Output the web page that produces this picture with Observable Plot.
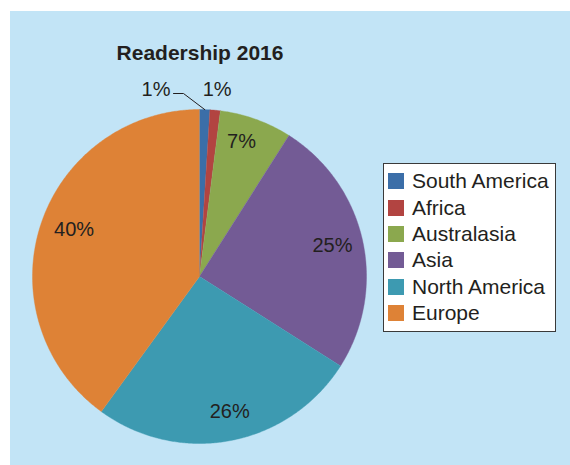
<!DOCTYPE html>
<html>
<head>
<meta charset="utf-8">
<script src="https://cdn.jsdelivr.net/npm/d3@7"></script>
<script src="https://cdn.jsdelivr.net/npm/@observablehq/plot@0.6"></script>
<style>
  body { margin: 0; background: #fff; font-family: "Liberation Sans", Arial, Helvetica, sans-serif; }
  #wrap { position: relative; width: 570px; height: 465px; overflow: hidden; }
  #panel { position: absolute; left: 10px; top: 11px; right: 0; bottom: 0; background: #c2e4f6; }
  #chart { position: absolute; left: 0; top: 0; }
  #title { position: absolute; left: 0; width: 400px; top: 41px; text-align: center; font-weight: bold; font-size: 21px; color: #231f20; line-height: 24px; }
  #legend { position: absolute; left: 383px; top: 163px; width: 171px; height: 163px; border: 1px solid #3a3a3a; background: #fff; padding-top: 4px; box-sizing: content-box; }
  .row { height: 26.4px; display: flex; align-items: center; font-size: 21px; color: #231f20; }
  .sw { width: 16px; height: 16px; margin-left: 4px; margin-right: 8px; flex: none; }
</style>
</head>
<body>
<div id="wrap">
  <div id="panel"></div>
  <div id="chart"></div>
  <div id="title"></div>
  <div id="legend"></div>
</div>
<script>
// ---- data ----
const title = "Readership 2016";
const regions = ["South America", "Africa", "Australasia", "Asia", "North America", "Europe"];
const shares = [1, 1, 7, 25, 26, 40];
const colors = ["#3b6ea8", "#b24441", "#8ba84e", "#735b95", "#3d9ab1", "#de8236"];

// ---- layout (not data) ----
const labelPlace = {
  "South America": {r: 1.0, da: 0},
  "Africa": {r: 1.125, da: 0},
  "Australasia": {r: 0.846, da: -2.5},
  "Asia": {r: 0.818, da: -0.6},
  "North America": {r: 0.828, da: -1.8},
  "Europe": {r: 0.803, da: 2.7}
};

const table = regions.map((name, i) => ({name, value: shares[i]}));
const arcs = d3.pie().sort(null).value(d => d.value).startAngle(0).endAngle(2 * Math.PI)(table);

// polygon outline for each slice (angle measured clockwise from 12 o'clock)
const slicePts = [];
for (const a of arcs) {
  const name = a.data.name;
  slicePts.push({name, x: 0, y: 0});
  const n = Math.max(2, Math.ceil((a.endAngle - a.startAngle) / (Math.PI / 360)));
  for (let k = 0; k <= n; k++) {
    const t = a.startAngle + (a.endAngle - a.startAngle) * k / n;
    slicePts.push({name, x: Math.sin(t), y: Math.cos(t)});
  }
}

const labels = arcs.map(a => {
  const p = labelPlace[a.data.name];
  const t = (a.startAngle + a.endAngle) / 2 + p.da * Math.PI / 180;
  return {name: a.data.name, text: a.data.value + "%", x: p.r * Math.sin(t), y: p.r * Math.cos(t), mid: t};
});

// South America label sits outside with a leader line
const sa = labels.find(d => d.name === "South America");
const R = 167;
const elbow = {x: -16 / R, y: 183 / R};
const tail = {x: -26 / R, y: 183 / R};
const leader = [
  {x: Math.sin(sa.mid), y: Math.cos(sa.mid)},
  elbow,
  tail
];
const saLabel = [{text: sa.text, x: tail.x - 3 / R, y: 187 / R}];
const inner = labels.filter(d => d.name !== "South America");

const chart = Plot.plot({
  width: 570,
  height: 465,
  margin: 0,
  x: {domain: [-1, 1], range: [32, 366], axis: null},
  y: {domain: [-1, 1], range: [443, 109], axis: null},
  color: {domain: regions, range: colors},
  style: {background: "transparent", overflow: "visible"},
  marks: [
    Plot.line(slicePts, {x: "x", y: "y", z: "name", fill: "name", stroke: "name", strokeWidth: 0.4}),
    Plot.line(leader, {x: "x", y: "y", stroke: "#231f20", strokeWidth: 1}),
    Plot.text(inner, {x: "x", y: "y", text: "text", fontSize: 20, fill: "#231f20", fontFamily: "Liberation Sans, Arial, sans-serif"}),
    Plot.text(saLabel, {x: "x", y: "y", text: "text", textAnchor: "end", fontSize: 20, fill: "#231f20", fontFamily: "Liberation Sans, Arial, sans-serif"})
  ]
});
document.getElementById("chart").appendChild(chart);
document.getElementById("title").textContent = title;

const leg = document.getElementById("legend");
regions.forEach((name, i) => {
  const row = document.createElement("div");
  row.className = "row";
  const sw = document.createElement("div");
  sw.className = "sw";
  sw.style.background = colors[i];
  const lab = document.createElement("span");
  lab.textContent = name;
  row.appendChild(sw);
  row.appendChild(lab);
  leg.appendChild(row);
});
</script>
</body>
</html>
